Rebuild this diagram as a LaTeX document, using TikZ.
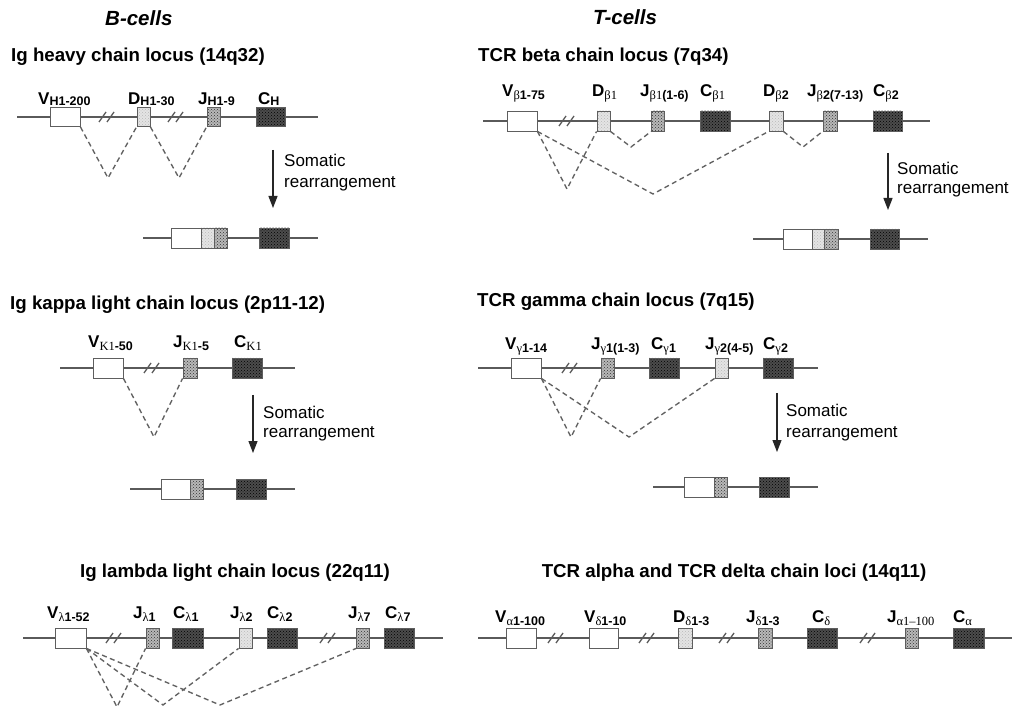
\documentclass[tikz,border=0pt]{standalone}
\usepackage{fontspec}
\setmainfont{Liberation Sans}
\newfontfamily\srf{Liberation Serif}
\usetikzlibrary{arrows.meta,patterns}
\definecolor{linec}{HTML}{5A5A5A}
\definecolor{boxc}{HTML}{5E5E5E}
\definecolor{dfill}{HTML}{E4E4E4}
\definecolor{jfill}{HTML}{B8B8B8}
\definecolor{cfill}{HTML}{4C4C4C}
\definecolor{dashc}{HTML}{626262}
\newcommand\gk[1]{{\srf\mdseries #1}}
\newcommand\lsub[2][3pt]{\raisebox{-#1}{\fontsize{12.5}{12.5}\selectfont #2}}
\begin{document}
\begin{tikzpicture}[x=1pt,y=-1pt,
  chrom/.style={draw=linec, line width=1.3pt},
  vbox/.style={draw=boxc, line width=0.9pt, fill=white, minimum height=19pt, inner sep=0pt},
  dbox/.style={draw=boxc, line width=0.9pt, minimum height=19pt, inner sep=0pt, preaction={fill=dfill}, pattern=crosshatch dots, pattern color=gray!55},
  jbox/.style={draw=boxc, line width=0.9pt, minimum height=19pt, inner sep=0pt, preaction={fill=jfill}, pattern=crosshatch dots, pattern color=gray!40!black},
  cbox/.style={draw=boxc, line width=0.9pt, minimum height=19pt, inner sep=0pt, preaction={fill=cfill}, pattern=crosshatch dots, pattern color=black},
  tall/.style={minimum height=20pt},
  rear/.style={draw=dashc, line width=1.35pt, dash pattern=on 5pt off 3.5pt},
  brkline/.style={draw=linec, line width=1.3pt},
  brk/.pic={\draw[brkline] (-9,5) -- (-2,-5) (-1,5) -- (6,-5);},
  arr/.style={draw=black!85, line width=1.2pt, -{Triangle[length=12pt,width=9pt]}},
  lab/.style={anchor=base west, inner sep=0pt, font=\fontsize{17}{17}\selectfont\bfseries},
  ttl/.style={anchor=base west, inner sep=0pt, font=\fontsize{18.7}{18.7}\selectfont\bfseries},
  head/.style={anchor=base west, inner sep=0pt, font=\fontsize{20.5}{20.5}\selectfont\bfseries\itshape},
  som/.style={anchor=base west, inner sep=0pt, font=\fontsize{17}{17}\selectfont}
]
\fill[white] (0,0) rectangle (1018,711);
\useasboundingbox (0,0) rectangle (1018,711);

% headings
\node[head] (bcells) at (105,26) {B-cells};
\node[head] (tcells) at (593,25) {T-cells};

% ================= Ig heavy chain =================
\node[ttl] (t1) at (11,62) {Ig heavy chain locus (14q32)};
\coordinate (h0) at (17,117); \coordinate (h1) at (318,117);
\draw[chrom] (h0) -- (h1);
\pic at (108,117) {brk}; \pic at (177,117) {brk};
\node[vbox, minimum width=30pt] (hV) at (65,117) {};
\node[dbox, minimum width=13pt] (hD) at (143.5,117) {};
\node[jbox, minimum width=13pt] (hJ) at (213.5,117) {};
\node[cbox, minimum width=29pt] (hC) at (270.5,117) {};
\node[lab] (lhV) at (38,105) {V\lsub[0.5pt]{H1-200}};
\node[lab] (lhD) at (128,105) {D\lsub[0.5pt]{H1-30}};
\node[lab] (lhJ) at (198,105) {J\lsub[0.5pt]{H1-9}};
\node[lab] (lhC) at (258,105) {C\lsub[0.5pt]{H}};
\coordinate (ha1) at (108,178); \coordinate (ha2) at (179,178);
\draw[rear] (hV.south east) -- (ha1) -- (hD.south west);
\draw[rear] (hD.south east) -- (ha2) -- (hJ.south west);
\coordinate (hs) at (273,150); \coordinate (he) at (273,208);
\draw[arr] (hs) -- (he);
\node[som] (hsom1) at (284,167) {Somatic};
\node[som] (hsom2) at (284,188) {rearrangement};
\coordinate (hr0) at (143,238); \coordinate (hr1) at (318,238);
\draw[chrom] (hr0) -- (hr1);
\node[vbox, tall, minimum width=30pt] (hrV) at (186,238) {};
\node[dbox, tall, minimum width=13pt] (hrD) at (207.5,238) {};
\node[jbox, tall, minimum width=13pt] (hrJ) at (220.5,238) {};
\node[cbox, tall, minimum width=30pt] (hrC) at (274,238) {};

% ================= TCR beta =================
\node[ttl] (t2) at (478,62) {TCR beta chain locus (7q34)};
\coordinate (b0) at (483,121); \coordinate (b1) at (930,121);
\draw[chrom] (b0) -- (b1);
\pic at (568,121) {brk};
\node[vbox, tall, minimum width=30pt] (bV) at (522,121) {};
\node[dbox, tall, minimum width=13pt] (bD1) at (603.5,121) {};
\node[jbox, tall, minimum width=13pt] (bJ1) at (658,121) {};
\node[cbox, tall, minimum width=30pt] (bC1) at (715,121) {};
\node[dbox, tall, minimum width=14pt] (bD2) at (776,121) {};
\node[jbox, tall, minimum width=14pt] (bJ2) at (830,121) {};
\node[cbox, tall, minimum width=29pt] (bC2) at (887.5,121) {};
\node[lab] (lbV) at (502,97) {V\lsub{\gk{β}1-75}};
\node[lab] (lbD1) at (592,97) {D\lsub{\gk{β1}}};
\node[lab] (lbJ1) at (640,97) {J\lsub{\gk{β1}(1-6)}};
\node[lab] (lbC1) at (700,97) {C\lsub{\gk{β1}}};
\node[lab] (lbD2) at (763,97) {D\lsub{\gk{β}2}};
\node[lab] (lbJ2) at (807,97) {J\lsub{\gk{β}2(7-13)}};
\node[lab] (lbC2) at (873,97) {C\lsub{\gk{β}2}};
\coordinate (ba1) at (567,189); \coordinate (ba2) at (653,194);
\coordinate (ba3) at (631,147); \coordinate (ba4) at (803,147);
\draw[rear] (bV.south east) -- (ba1) -- (bD1.south west);
\draw[rear] (bV.south east) -- (ba2) -- (bD2.south west);
\draw[rear] (bD1.south east) -- (ba3) -- (bJ1.south west);
\draw[rear] (bD2.south east) -- (ba4) -- (bJ2.south west);
\coordinate (bs) at (888,153); \coordinate (be) at (888,210);
\draw[arr] (bs) -- (be);
\node[som] (bsom1) at (897,175) {Somatic};
\node[som] (bsom2) at (897,194) {rearrangement};
\coordinate (br0) at (753,239); \coordinate (br1) at (928,239);
\draw[chrom] (br0) -- (br1);
\node[vbox, tall, minimum width=29pt] (brV) at (797.5,239) {};
\node[dbox, tall, minimum width=12pt] (brD) at (818,239) {};
\node[jbox, tall, minimum width=14pt] (brJ) at (831,239) {};
\node[cbox, tall, minimum width=29pt] (brC) at (884.5,239) {};

% ================= Ig kappa =================
\node[ttl] (t3) at (10,310) {Ig kappa light chain locus (2p11-12)};
\coordinate (k0) at (60,368); \coordinate (k1) at (295,368);
\draw[chrom] (k0) -- (k1);
\pic at (153,368) {brk};
\node[vbox, tall, minimum width=30pt] (kV) at (108,368) {};
\node[jbox, tall, minimum width=14pt] (kJ) at (190,368) {};
\node[cbox, tall, minimum width=30pt] (kC) at (247,368) {};
\node[lab] (lkV) at (88,348) {V\lsub{\gk{K1}-50}};
\node[lab] (lkJ) at (173,348) {J\lsub{\gk{K1}-5}};
\node[lab] (lkC) at (234,348) {C\lsub{\gk{K1}}};
\coordinate (ka1) at (154,437);
\draw[rear] (kV.south east) -- (ka1) -- (kJ.south west);
\coordinate (ks) at (253,395); \coordinate (ke) at (253,453);
\draw[arr] (ks) -- (ke);
\node[som] (ksom1) at (263,418) {Somatic};
\node[som] (ksom2) at (263,438) {rearrangement};
\coordinate (kr0) at (130,489); \coordinate (kr1) at (295,489);
\draw[chrom] (kr0) -- (kr1);
\node[vbox, tall, minimum width=29pt] (krV) at (175.5,489) {};
\node[jbox, tall, minimum width=13pt] (krJ) at (196.5,489) {};
\node[cbox, tall, minimum width=30pt] (krC) at (251,489) {};

% ================= TCR gamma =================
\node[ttl] (t4) at (477,307) {TCR gamma chain locus (7q15)};
\coordinate (g0) at (478,368); \coordinate (g1) at (818,368);
\draw[chrom] (g0) -- (g1);
\pic at (571,368) {brk};
\node[vbox, tall, minimum width=30pt] (gV) at (526,368) {};
\node[jbox, tall, minimum width=13pt] (gJ1) at (607.5,368) {};
\node[cbox, tall, minimum width=30pt] (gC1) at (664,368) {};
\node[dbox, tall, minimum width=13pt] (gJ2) at (721.5,368) {};
\node[cbox, tall, minimum width=30pt] (gC2) at (778,368) {};
\node[lab] (lgV) at (505,350) {V\lsub{\gk{γ}1-14}};
\node[lab] (lgJ1) at (591,350) {J\lsub{\gk{γ}1(1-3)}};
\node[lab] (lgC1) at (651,350) {C\lsub{\gk{γ}1}};
\node[lab] (lgJ2) at (705,350) {J\lsub{\gk{γ}2(4-5)}};
\node[lab] (lgC2) at (763,350) {C\lsub{\gk{γ}2}};
\coordinate (ga1) at (571,437); \coordinate (ga2) at (629,437);
\draw[rear] (gV.south east) -- (ga1) -- (gJ1.south west);
\draw[rear] (gV.south east) -- (ga2) -- (gJ2.south west);
\coordinate (gs) at (777,393); \coordinate (ge) at (777,452);
\draw[arr] (gs) -- (ge);
\node[som] (gsom1) at (786,417) {Somatic};
\node[som] (gsom2) at (786,437) {rearrangement};
\coordinate (gr0) at (653,487); \coordinate (gr1) at (818,487);
\draw[chrom] (gr0) -- (gr1);
\node[vbox, tall, minimum width=30pt] (grV) at (699,487) {};
\node[jbox, tall, minimum width=13pt] (grJ) at (720.5,487) {};
\node[cbox, tall, minimum width=30pt] (grC) at (774,487) {};

% ================= Ig lambda =================
\node[ttl, anchor=base] (t5) at (235,577) {Ig lambda light chain locus (22q11)};
\coordinate (l0) at (23,638); \coordinate (l1) at (443,638);
\draw[chrom] (l0) -- (l1);
\pic at (115,638) {brk}; \pic at (329,638) {brk};
\node[vbox, tall, minimum width=31pt] (lV) at (70.5,638) {};
\node[jbox, tall, minimum width=13pt] (lJ1) at (152.5,638) {};
\node[cbox, tall, minimum width=31pt] (lC1) at (187.5,638) {};
\node[dbox, tall, minimum width=13pt] (lJ2) at (245.5,638) {};
\node[cbox, tall, minimum width=30pt] (lC2) at (282,638) {};
\node[jbox, tall, minimum width=13pt] (lJ7) at (363,638) {};
\node[cbox, tall, minimum width=30pt] (lC7) at (399,638) {};
\node[lab] (llV) at (47,618) {V\lsub{\gk{λ}1-52}};
\node[lab] (llJ1) at (133,618) {J\lsub{\gk{λ}1}};
\node[lab] (llC1) at (173,618) {C\lsub{\gk{λ}1}};
\node[lab] (llJ2) at (230,618) {J\lsub{\gk{λ}2}};
\node[lab] (llC2) at (267,618) {C\lsub{\gk{λ}2}};
\node[lab] (llJ7) at (348,618) {J\lsub{\gk{λ}7}};
\node[lab] (llC7) at (385,618) {C\lsub{\gk{λ}7}};
\coordinate (la1) at (117,707); \coordinate (la2) at (163,705); \coordinate (la3) at (220,705);
\draw[rear] (lV.south east) -- (la1) -- (lJ1.south west);
\draw[rear] (lV.south east) -- (la2) -- (lJ2.south west);
\draw[rear] (lV.south east) -- (la3) -- (lJ7.south west);

% ================= TCR alpha / delta =================
\node[ttl, anchor=base] (t6) at (734,577) {TCR alpha and TCR delta chain loci (14q11)};
\coordinate (a0) at (478,638); \coordinate (a1) at (1012,638);
\draw[chrom] (a0) -- (a1);
\pic at (557,638) {brk}; \pic at (648,638) {brk}; \pic at (728,638) {brk}; \pic at (869,638) {brk};
\node[vbox, tall, minimum width=30pt] (aVa) at (521,638) {};
\node[vbox, tall, minimum width=29pt] (aVd) at (603.5,638) {};
\node[dbox, tall, minimum width=14pt] (aDd) at (685,638) {};
\node[jbox, tall, minimum width=14pt] (aJd) at (765,638) {};
\node[cbox, tall, minimum width=30pt] (aCd) at (822,638) {};
\node[jbox, tall, minimum width=13pt] (aJa) at (911.5,638) {};
\node[cbox, tall, minimum width=31pt] (aCa) at (968.5,638) {};
\node[lab] (laVa) at (495,622) {V\lsub{\gk{α}1-100}};
\node[lab] (laVd) at (584,622) {V\lsub{\gk{δ}1-10}};
\node[lab] (laDd) at (673,622) {D\lsub{\gk{δ}1-3}};
\node[lab] (laJd) at (746,622) {J\lsub{\gk{δ}1-3}};
\node[lab] (laCd) at (812,622) {C\lsub{\gk{δ}}};
\node[lab] (laJa) at (887,622) {J\lsub{\gk{α1–100}}};
\node[lab] (laCa) at (953,622) {C\lsub{\gk{α}}};
\end{tikzpicture}
\end{document}
